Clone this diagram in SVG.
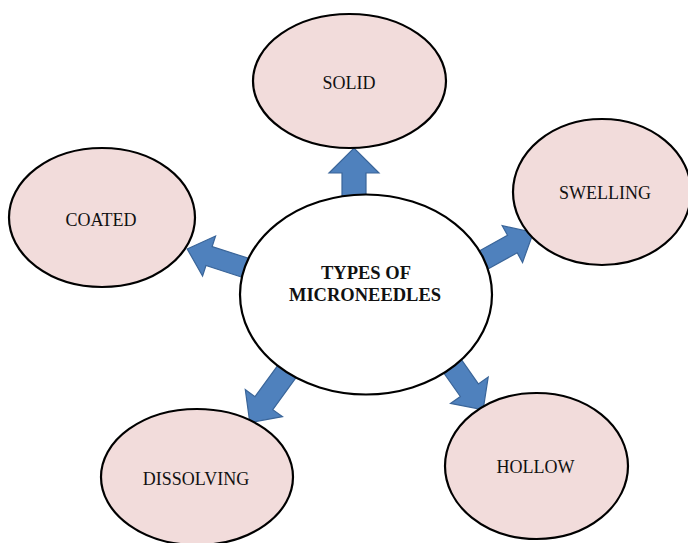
<svg xmlns="http://www.w3.org/2000/svg" width="688" height="543" viewBox="0 0 688 543">
<style>
.node{fill:#F2DCDB;stroke:#000;stroke-width:2.2}
.center{fill:#fff;stroke:#000;stroke-width:2.2}
.arrow{fill:#4F81BD;stroke:#3A6599;stroke-width:1.2;stroke-linejoin:miter}
.lbl{font-family:"Liberation Serif","Times New Roman",serif;font-size:18px;fill:#111;text-anchor:middle}
.title{font-family:"Liberation Serif","Times New Roman",serif;font-size:18.5px;font-weight:bold;fill:#111;text-anchor:middle}
</style>
<rect width="688" height="543" fill="#fff"/>
<g id="connectors">
  <!-- up to SOLID -->
  <path class="arrow" transform="translate(354,200) rotate(-90)" d="M0,-12 L27,-12 L27,-25 L52,0 L27,25 L27,12 L0,12 Z"/>
  <!-- to COATED -->
  <path class="arrow" transform="translate(249,269) rotate(198)" d="M0,-10 L42,-10 L42,-21 L65,0 L42,21 L42,10 L0,10 Z"/>
  <!-- to SWELLING -->
  <path class="arrow" transform="translate(480,262) rotate(-29)" d="M0,-10 L37,-10 L37,-21 L61,0 L37,21 L37,10 L0,10 Z"/>
  <!-- to DISSOLVING -->
  <path class="arrow" transform="translate(288,370) rotate(126)" d="M0,-11 L41,-11 L41,-23 L65,0 L41,23 L41,11 L0,11 Z"/>
  <!-- to HOLLOW -->
  <path class="arrow" transform="translate(451,364) rotate(55)" d="M0,-11 L32,-11 L32,-23 L56,0 L32,23 L32,11 L0,11 Z"/>
</g>
<g id="node-center">
  <ellipse class="center" cx="366" cy="294.5" rx="126" ry="100"/>
  <text class="title" x="366" y="279">TYPES OF</text>
  <text class="title" x="365" y="301">MICRONEEDLES</text>
</g>
<g id="node-solid">
  <ellipse class="node" cx="349.5" cy="81" rx="96.5" ry="67"/>
  <text class="lbl" x="349" y="89">SOLID</text>
</g>
<g id="node-swelling">
  <ellipse class="node" cx="602" cy="192" rx="89" ry="73"/>
  <text class="lbl" x="605" y="199">SWELLING</text>
</g>
<g id="node-coated">
  <ellipse class="node" cx="102" cy="217.5" rx="93" ry="69.5"/>
  <text class="lbl" x="101" y="226">COATED</text>
</g>
<g id="node-dissolving">
  <ellipse class="node" cx="197" cy="477" rx="96" ry="68"/>
  <text class="lbl" x="196" y="485">DISSOLVING</text>
</g>
<g id="node-hollow">
  <ellipse class="node" cx="536.5" cy="466" rx="91.5" ry="73"/>
  <text class="lbl" x="535.5" y="473">HOLLOW</text>
</g>
</svg>
